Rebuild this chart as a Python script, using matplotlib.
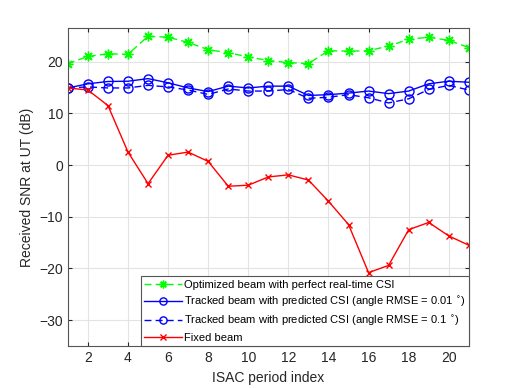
import numpy as np
import matplotlib
matplotlib.use('Agg')
import matplotlib.pyplot as plt

plt.rcParams['font.family'] = ['Liberation Sans', 'DejaVu Sans']
plt.rcParams['mathtext.fontset'] = 'dejavusans'

period = np.arange(1, 22)
snr_optimized = [19.6, 21.0, 21.5, 21.4, 24.9, 24.7, 23.7, 22.3, 21.7, 20.9, 20.2,
                 19.8, 19.6, 22.1, 22.0, 22.1, 23.0, 24.3, 24.7, 24.1, 22.7]
snr_tracked_001 = [14.9, 15.7, 16.15, 16.2, 16.7, 15.9, 14.9, 14.2, 15.25, 14.9, 15.25,
                   15.25, 13.45, 13.6, 13.9, 14.3, 13.8, 14.3, 15.7, 16.2, 16.0]
snr_tracked_01 = [14.9, 15.1, 14.9, 14.9, 15.4, 15.1, 14.5, 13.65, 14.7, 14.3, 14.3,
                  14.6, 12.9, 13.1, 13.6, 13.0, 12.0, 12.8, 14.6, 15.4, 14.5]
snr_fixed = [14.9, 14.5, 11.5, 2.5, -3.6, 1.9, 2.5, 0.7, -4.1, -3.9, -2.3,
             -1.9, -2.9, -7.0, -11.5, -20.8, -19.4, -12.5, -11.1, -13.7, -15.5]

labels = [
    'Optimized beam with perfect real-time CSI',
    r'Tracked beam with predicted CSI (angle RMSE = 0.01 $^{\circ}$)',
    r'Tracked beam with predicted CSI (angle RMSE = 0.1 $^{\circ}$)',
    'Fixed beam',
]

fig = plt.figure(figsize=(5.18, 3.88), dpi=100)
ax = fig.add_axes([0.131, 0.108, 0.774, 0.82])

ax.plot(period, snr_optimized, color='#00FF00', ls='--', dashes=(5, 3), lw=1.0,
        marker=(8, 2, 0), ms=7, mew=1.0, label=labels[0])
ax.plot(period, snr_tracked_001, color='#0000FF', ls='-', lw=1.0,
        marker='o', ms=6.5, mfc='none', mew=1.0, label=labels[1])
ax.plot(period, snr_tracked_01, color='#0000FF', ls='--', dashes=(5, 3), lw=1.0,
        marker='o', ms=6.5, mfc='none', mew=1.0, label=labels[2])
ax.plot(period, snr_fixed, color='#FF0000', ls='-', lw=1.0,
        marker='x', ms=5, mew=1.0, label=labels[3])

ax.set_xlim(1, 21)
ax.set_ylim(-35, 26.5)
ax.set_xticks(np.arange(2, 21, 2))
ax.set_yticks(np.arange(-30, 21, 10))
ax.grid(True, color='#e3e3e3', lw=0.8)
ax.set_axisbelow(True)
ax.tick_params(direction='in', top=True, right=True, labelsize=10,
               color='#262626', labelcolor='#262626', length=3)
for s in ax.spines.values():
    s.set_color('#555555')
    s.set_linewidth(0.8)

ax.set_xlabel('ISAC period index', fontsize=10, color='#262626')
ax.set_ylabel('Received SNR at UT (dB)', fontsize=10, color='#262626')

leg = ax.legend(loc='lower right', fontsize=8, borderaxespad=0, fancybox=False,
                handlelength=3.4, handletextpad=0.2, labelspacing=0.45,
                borderpad=0.3, framealpha=1, edgecolor='#555555', markerscale=0.8)
leg.get_frame().set_linewidth(0.8)

fig.savefig('out.png', dpi=100)
